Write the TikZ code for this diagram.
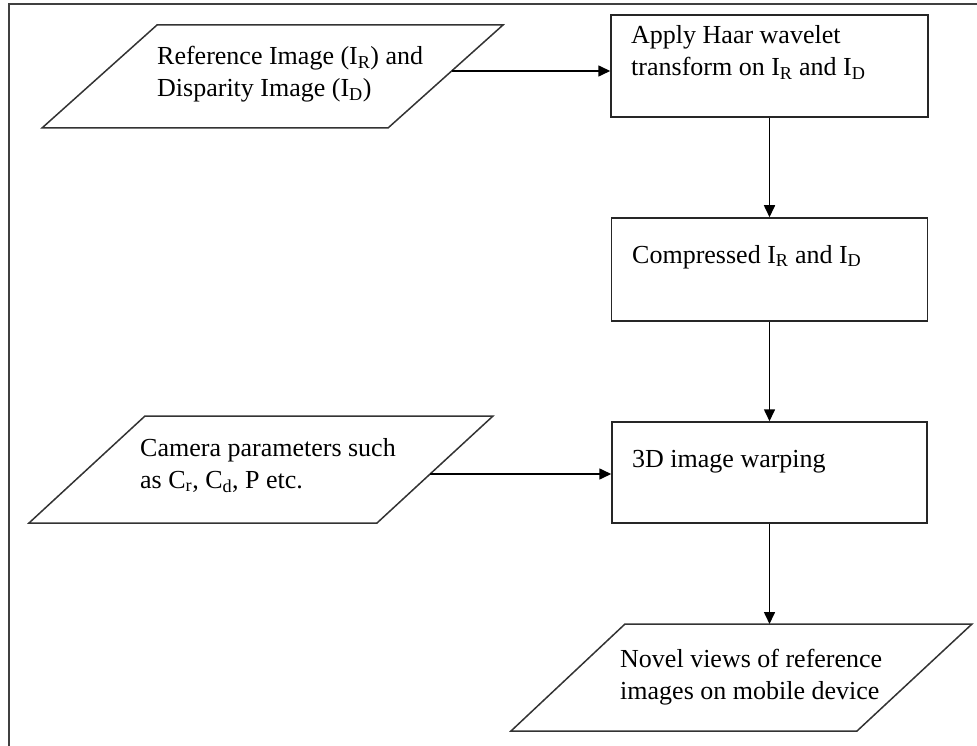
\documentclass[tikz,border=0pt]{standalone}
\usepackage{fontspec}
\setmainfont{Liberation Serif}
\usetikzlibrary{arrows.meta}
\tikzset{
  procbox/.style={draw=black!85,line width=1.5pt,inner sep=0pt},
  iobox/.style={draw=black!80,line width=1.5pt},
  flowtext/.style={anchor=base west,align=left,inner sep=0pt,font=\fontsize{26}{32}\selectfont},
  flowarrow/.style={line width=1.6pt,-{Triangle[length=12pt,width=11pt]}}
}

\begin{document}
\begin{tikzpicture}[x=1pt,y=-1pt]
  \useasboundingbox (0,0) rectangle (977,746);

  % outer frame (cut at right and bottom)
  \draw [line width=1.8pt,black!75] (9,746) -- (9,4) -- (977,4);

  % inputs
  \draw [iobox] (157,25) -- (503,25) -- (388,128) -- (42,128) -- cycle;
  \coordinate (imgout) at (451.6,71);
  \node [flowtext] (imgtxt) at (157,97) {Reference Image (I\textsubscript{R}) and\\Disparity Image (I\textsubscript{D})};

  \draw [iobox] (145,416) -- (493,416) -- (377,523) -- (29,523) -- cycle;
  \coordinate (camout) at (430,474);
  \node [flowtext] (camtxt) at (140,488) {Camera parameters such\\as C\textsubscript{r}, C\textsubscript{d}, P etc.};

  % processing steps
  \node [procbox,minimum width=317pt,minimum height=102pt] (haar) at (769.5,66) {};
  \node [flowtext] (haartxt) at (631,76) {Apply Haar wavelet\\transform on I\textsubscript{R} and I\textsubscript{D}};

  \node [procbox,minimum width=316pt,minimum height=103pt] (comp) at (769.5,269.5) {};
  \node [flowtext] (comptxt) at (632,263) {Compressed I\textsubscript{R} and I\textsubscript{D}};

  \node [procbox,minimum width=315pt,minimum height=101pt] (warp) at (769.5,472.5) {};
  \node [flowtext] (warptxt) at (632,467) {3D image warping};

  % output
  \draw [iobox] (625,624) -- (972,624) -- (857,731) -- (511,731) -- cycle;
  \coordinate (novtop) at (766,624);
  \node [flowtext] (novtxt) at (620,699) {Novel views of reference\\images on mobile device};

  % connectors
  \draw [flowarrow] (imgout) -- (imgout -| haar.west);
  \draw [flowarrow] (haar.south) -- (comp.north);
  \draw [flowarrow] (comp.south) -- (warp.north);
  \draw [flowarrow] (camout) -- (camout -| warp.west);
  \draw [flowarrow] (warp.south) -- (warp.south |- novtop);

\end{tikzpicture}
\end{document}
